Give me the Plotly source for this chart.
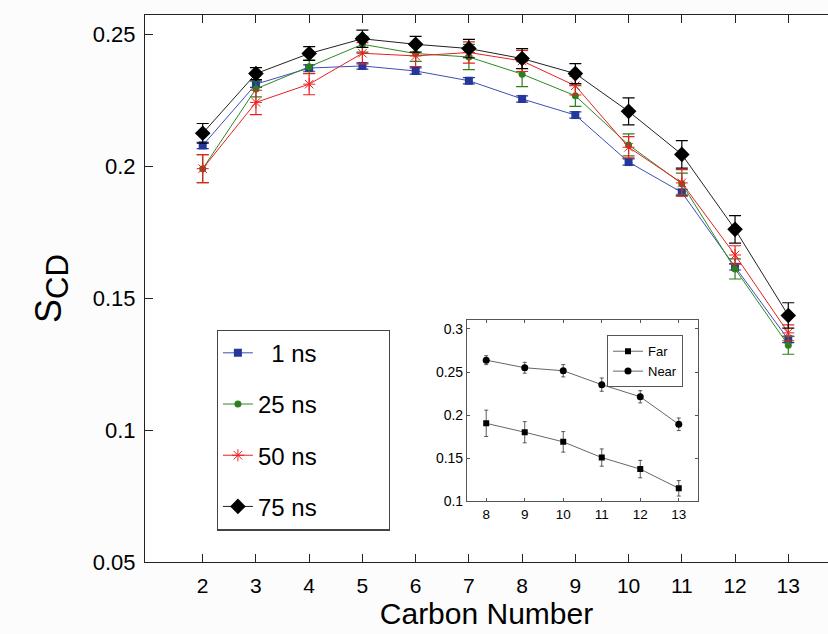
import plotly.graph_objects as go

carbons = [2, 3, 4, 5, 6, 7, 8, 9, 10, 11, 12, 13]
s_1ns = [0.2078, 0.2310, 0.2371, 0.2379, 0.2360, 0.2323, 0.2254, 0.2193, 0.2015, 0.1900, 0.1618, 0.1343]
e_1ns = [0.0012] * 12
s_25ns = [0.1990, 0.2292, 0.2376, 0.2461, 0.2426, 0.2413, 0.2348, 0.2266, 0.2080, 0.1933, 0.1610, 0.1321]
e_25ns = [0.0053, 0.0030, 0.0025, 0.0030, 0.0030, 0.0048, 0.0047, 0.0040, 0.0042, 0.0040, 0.0038, 0.0034]
s_50ns = [0.1990, 0.2241, 0.2310, 0.2427, 0.2417, 0.2430, 0.2398, 0.2304, 0.2071, 0.1936, 0.1663, 0.1368]
e_50ns = [0.0053, 0.0046, 0.0040, 0.0040, 0.0040, 0.0040, 0.0040, 0.0035, 0.0040, 0.0050, 0.0035, 0.0030]
s_75ns = [0.2124, 0.2350, 0.2426, 0.2482, 0.2461, 0.2445, 0.2407, 0.2350, 0.2207, 0.2044, 0.1760, 0.1434]
e_75ns = [0.0037, 0.0023, 0.0026, 0.0033, 0.0030, 0.0035, 0.0038, 0.0038, 0.0051, 0.0052, 0.0052, 0.0048]

inset_carbons = [8, 9, 10, 11, 12, 13]
far = [0.1905, 0.1802, 0.1690, 0.1508, 0.1374, 0.1151]
far_err = [0.0153, 0.0123, 0.0119, 0.0100, 0.0101, 0.0090]
near = [0.2638, 0.2550, 0.2515, 0.2354, 0.2213, 0.1894]
near_err = [0.0052, 0.0063, 0.0071, 0.0077, 0.0071, 0.0073]

main_xticks = carbons
main_yticks = [0.05, 0.1, 0.15, 0.2, 0.25]
main_yticklabels = ["0.05", "0.1", "0.15", "0.2", "0.25"]
inset_yticks = [0.1, 0.15, 0.2, 0.25, 0.3]
inset_yticklabels = ["0.1", "0.15", "0.2", "0.25", "0.3"]

FONT = "Liberation Sans, Arial, sans-serif"
PAD = "\u00a0" * 10

series = [
    ("\u00a0\u00a01 ns" + PAD, s_1ns, e_1ns, "#24379a", "#3c4fb5", dict(symbol="square", size=8), "g1"),
    ("25 ns" + PAD, s_25ns, e_25ns, "#2e7d1e", "#2e8a22", dict(symbol="circle", size=7), "g2"),
    ("50 ns" + PAD, s_50ns, e_50ns, "#e82020", "#e82020", dict(symbol="asterisk-open", size=10, line=dict(width=1, color="#e82020")), "g3"),
    ("75 ns" + PAD, s_75ns, e_75ns, "#000000", "#222222", dict(symbol="diamond", size=12), "g4"),
]

fig = go.Figure()
for name, ys, es, mcol, lcol, mk, grp in series:
    mk = dict(mk)
    mk.setdefault("color", mcol)
    fig.add_trace(go.Scatter(
        x=carbons, y=ys, name=name, mode="lines+markers",
        line=dict(color=lcol, width=1),
        marker=mk,
        error_y=dict(type="data", array=es, visible=True, color=mcol, thickness=1.2, width=6),
        legendgroup=grp, xaxis="x", yaxis="y", legend="legend",
    ))

fig.add_trace(go.Scatter(
    x=inset_carbons, y=far, name="Far", mode="lines+markers",
    line=dict(color="#666666", width=1),
    marker=dict(symbol="square", size=6, color="#000000"),
    error_y=dict(type="data", array=far_err, visible=True, color="#333333", thickness=0.8, width=2),
    xaxis="x2", yaxis="y2", legend="legend2", legendgroup="f",
))
fig.add_trace(go.Scatter(
    x=inset_carbons, y=near, name="Near", mode="lines+markers",
    line=dict(color="#666666", width=1),
    marker=dict(symbol="circle", size=7, color="#000000"),
    error_y=dict(type="data", array=near_err, visible=True, color="#333333", thickness=0.8, width=2),
    xaxis="x2", yaxis="y2", legend="legend2", legendgroup="n",
))

fig.update_layout(
    width=828, height=634,
    margin=dict(l=145, r=0, t=15, b=72),
    paper_bgcolor="#fcfcfc", plot_bgcolor="#ffffff",
    font=dict(family=FONT, color="#000000"),
    showlegend=True,
    xaxis=dict(
        domain=[0, 1], range=[0.916, 13.746], tickvals=main_xticks,
        ticks="inside", ticklen=8, tickwidth=1, tickcolor="#222",
        showline=True, linecolor="#222", linewidth=1.2, mirror="ticks",
        showgrid=False, zeroline=False,
        tickfont=dict(size=21), ticklabelstandoff=5,
        title=dict(text="Carbon Number", font=dict(size=30), standoff=1),
    ),
    yaxis=dict(
        domain=[0, 1], range=[0.05, 0.2572], tickvals=main_yticks, ticktext=main_yticklabels,
        ticks="inside", ticklen=8, tickwidth=1, tickcolor="#222",
        showline=True, linecolor="#222", linewidth=1.2, mirror=False,
        showgrid=False, zeroline=False,
        tickfont=dict(size=22), ticklabelstandoff=4,
        title=dict(text="S<sub><span style='font-size:31px'>CD</span></sub>", font=dict(size=36), standoff=20),
    ),
    xaxis2=dict(
        domain=[0.4714, 0.8097], anchor="y2", range=[7.5, 13.5], tickvals=inset_carbons,
        ticks="inside", ticklen=3, tickwidth=1, tickcolor="#555",
        showline=True, linecolor="#555", linewidth=1, mirror="ticks",
        showgrid=False, zeroline=False, tickfont=dict(size=13.5),
    ),
    yaxis2=dict(
        domain=[0.1109, 0.4418], anchor="x2", range=[0.1, 0.31], tickvals=inset_yticks, ticktext=inset_yticklabels,
        ticks="inside", ticklen=3, tickwidth=1, tickcolor="#555",
        showline=True, linecolor="#555", linewidth=1, mirror="ticks",
        showgrid=False, zeroline=False, tickfont=dict(size=14),
    ),
    legend=dict(
        x=0.105, y=0.425, xanchor="left", yanchor="top",
        bgcolor="#ffffff", bordercolor="#444", borderwidth=1.2,
        font=dict(size=24), tracegroupgap=17,
    ),
    legend2=dict(
        x=0.7877, y=0.4145, xanchor="right", yanchor="top",
        bgcolor="#ffffff", bordercolor="#555", borderwidth=1,
        font=dict(size=13), tracegroupgap=0,
    ),
)

fig.write_html("out.html")
